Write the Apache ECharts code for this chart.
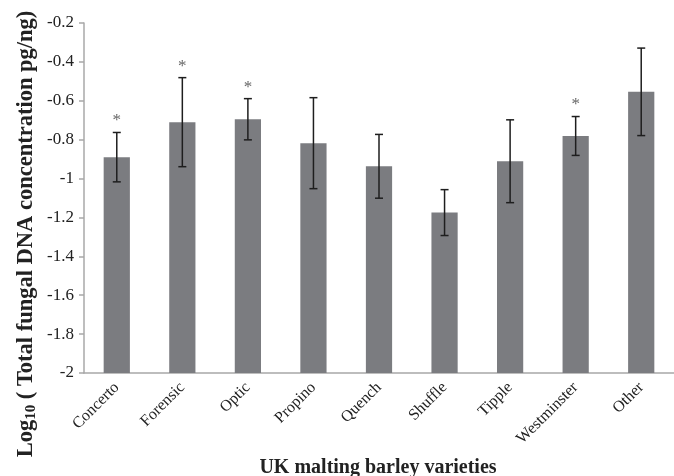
<!DOCTYPE html>
<html>
<head>
<meta charset="utf-8">
<script src="https://cdn.jsdelivr.net/npm/echarts@6/dist/echarts.min.js"></script>
<style>html,body{margin:0;padding:0;background:#fff}#c{width:674px;height:476px}</style>
</head>
<body>
<div id="c"></div>
<script>
var categories = ['Concerto','Forensic','Optic','Propino','Quench','Shuffle','Tipple','Westminster','Other'];
var means = [-0.89, -0.71, -0.695, -0.818, -0.937, -1.175, -0.911, -0.781, -0.554];
var errors = [0.127, 0.229, 0.106, 0.234, 0.164, 0.118, 0.213, 0.100, 0.225];
var significant = [1, 1, 1, 0, 0, 0, 0, 1, 0];
var yMin = -2, yMax = -0.2, yStep = 0.2;
var xTitle = 'UK malting barley varieties';
var yTitleMain = 'Log';
var yTitleSub = '10';
var yTitleRest = ' ( Total fungal DNA concentration pg/ng)';

var barData = means.map(function(v,i){return [i, v];});
var errData = means.map(function(v,i){return [i, v - errors[i], v + errors[i], significant[i]];});

var chart = echarts.init(document.getElementById('c'), null, {renderer:'canvas'});
var serif = 'Liberation Serif';
chart.setOption({
  animation:false,
  grid:{left:84, right:0, top:23, bottom:103, containLabel:false},
  xAxis:{
    type:'category', data:categories,
    axisLine:{lineStyle:{color:'#a8a8a8', width:1.5}},
    axisTick:{show:false},
    axisLabel:{rotate:45, fontFamily:serif, fontSize:16, color:'#222', margin:12, interval:0}
  },
  yAxis:{
    type:'value', min:yMin, max:yMax, interval:yStep,
    axisLine:{show:true, lineStyle:{color:'#a8a8a8', width:1.5}},
    axisTick:{show:true, length:5, lineStyle:{color:'#a8a8a8', width:1.5}},
    splitLine:{show:false},
    axisLabel:{fontFamily:serif, fontSize:17, color:'#222', margin:10,
      formatter:function(v){return String(parseFloat(v.toFixed(1)));}}
  },
  graphic:[
    {type:'text', x:378, y:468, z:10,
      style:{text:xTitle, fontFamily:serif, fontSize:20, fontWeight:'bold', fill:'#222', align:'center', verticalAlign:'middle'}},
    {type:'text', x:26, y:234, rotation:Math.PI/2, z:10,
      style:{text:'{b|'+yTitleMain+'}{s|'+yTitleSub+'}{b|'+yTitleRest+'}', align:'center', verticalAlign:'middle',
        rich:{
          b:{fontFamily:serif, fontSize:22.5, fontWeight:'bold', fill:'#222'},
          s:{fontFamily:serif, fontSize:15, fontWeight:'bold', fill:'#222', verticalAlign:'bottom', padding:[11,0,0,0]}
        }}}
  ],
  series:[
    {
      type:'custom', data:barData, encode:{x:0,y:1},
      renderItem:function(params, api){
        var i = api.value(0);
        var top = api.coord([i, api.value(1)]);
        var base = api.coord([i, yMin]);
        var w = api.size([1,0])[0]*0.4;
        return {type:'rect', shape:{x:top[0]-w/2, y:top[1], width:w, height:base[1]-top[1]},
          style:{fill:'#7b7c80'}};
      }
    },
    {
      type:'custom', data:errData, encode:{x:0,y:[1,2]}, z:3,
      renderItem:function(params, api){
        var i = api.value(0);
        var lo = api.coord([i, api.value(1)]);
        var hi = api.coord([i, api.value(2)]);
        var cw = 4;
        var st = {stroke:'#1e1e1e', lineWidth:1.5};
        var children = [
          {type:'line', shape:{x1:lo[0], y1:lo[1], x2:hi[0], y2:hi[1]}, style:st},
          {type:'line', shape:{x1:lo[0]-cw, y1:lo[1], x2:lo[0]+cw, y2:lo[1]}, style:st},
          {type:'line', shape:{x1:hi[0]-cw, y1:hi[1], x2:hi[0]+cw, y2:hi[1]}, style:st}
        ];
        if (api.value(3)) {
          children.push({type:'text', x:hi[0], y:hi[1]-3,
            style:{text:'*', fontFamily:serif, fontSize:17, fill:'#666', align:'center', verticalAlign:'bottom'}});
        }
        return {type:'group', children:children};
      }
    }
  ]
});
</script>
</body>
</html>
